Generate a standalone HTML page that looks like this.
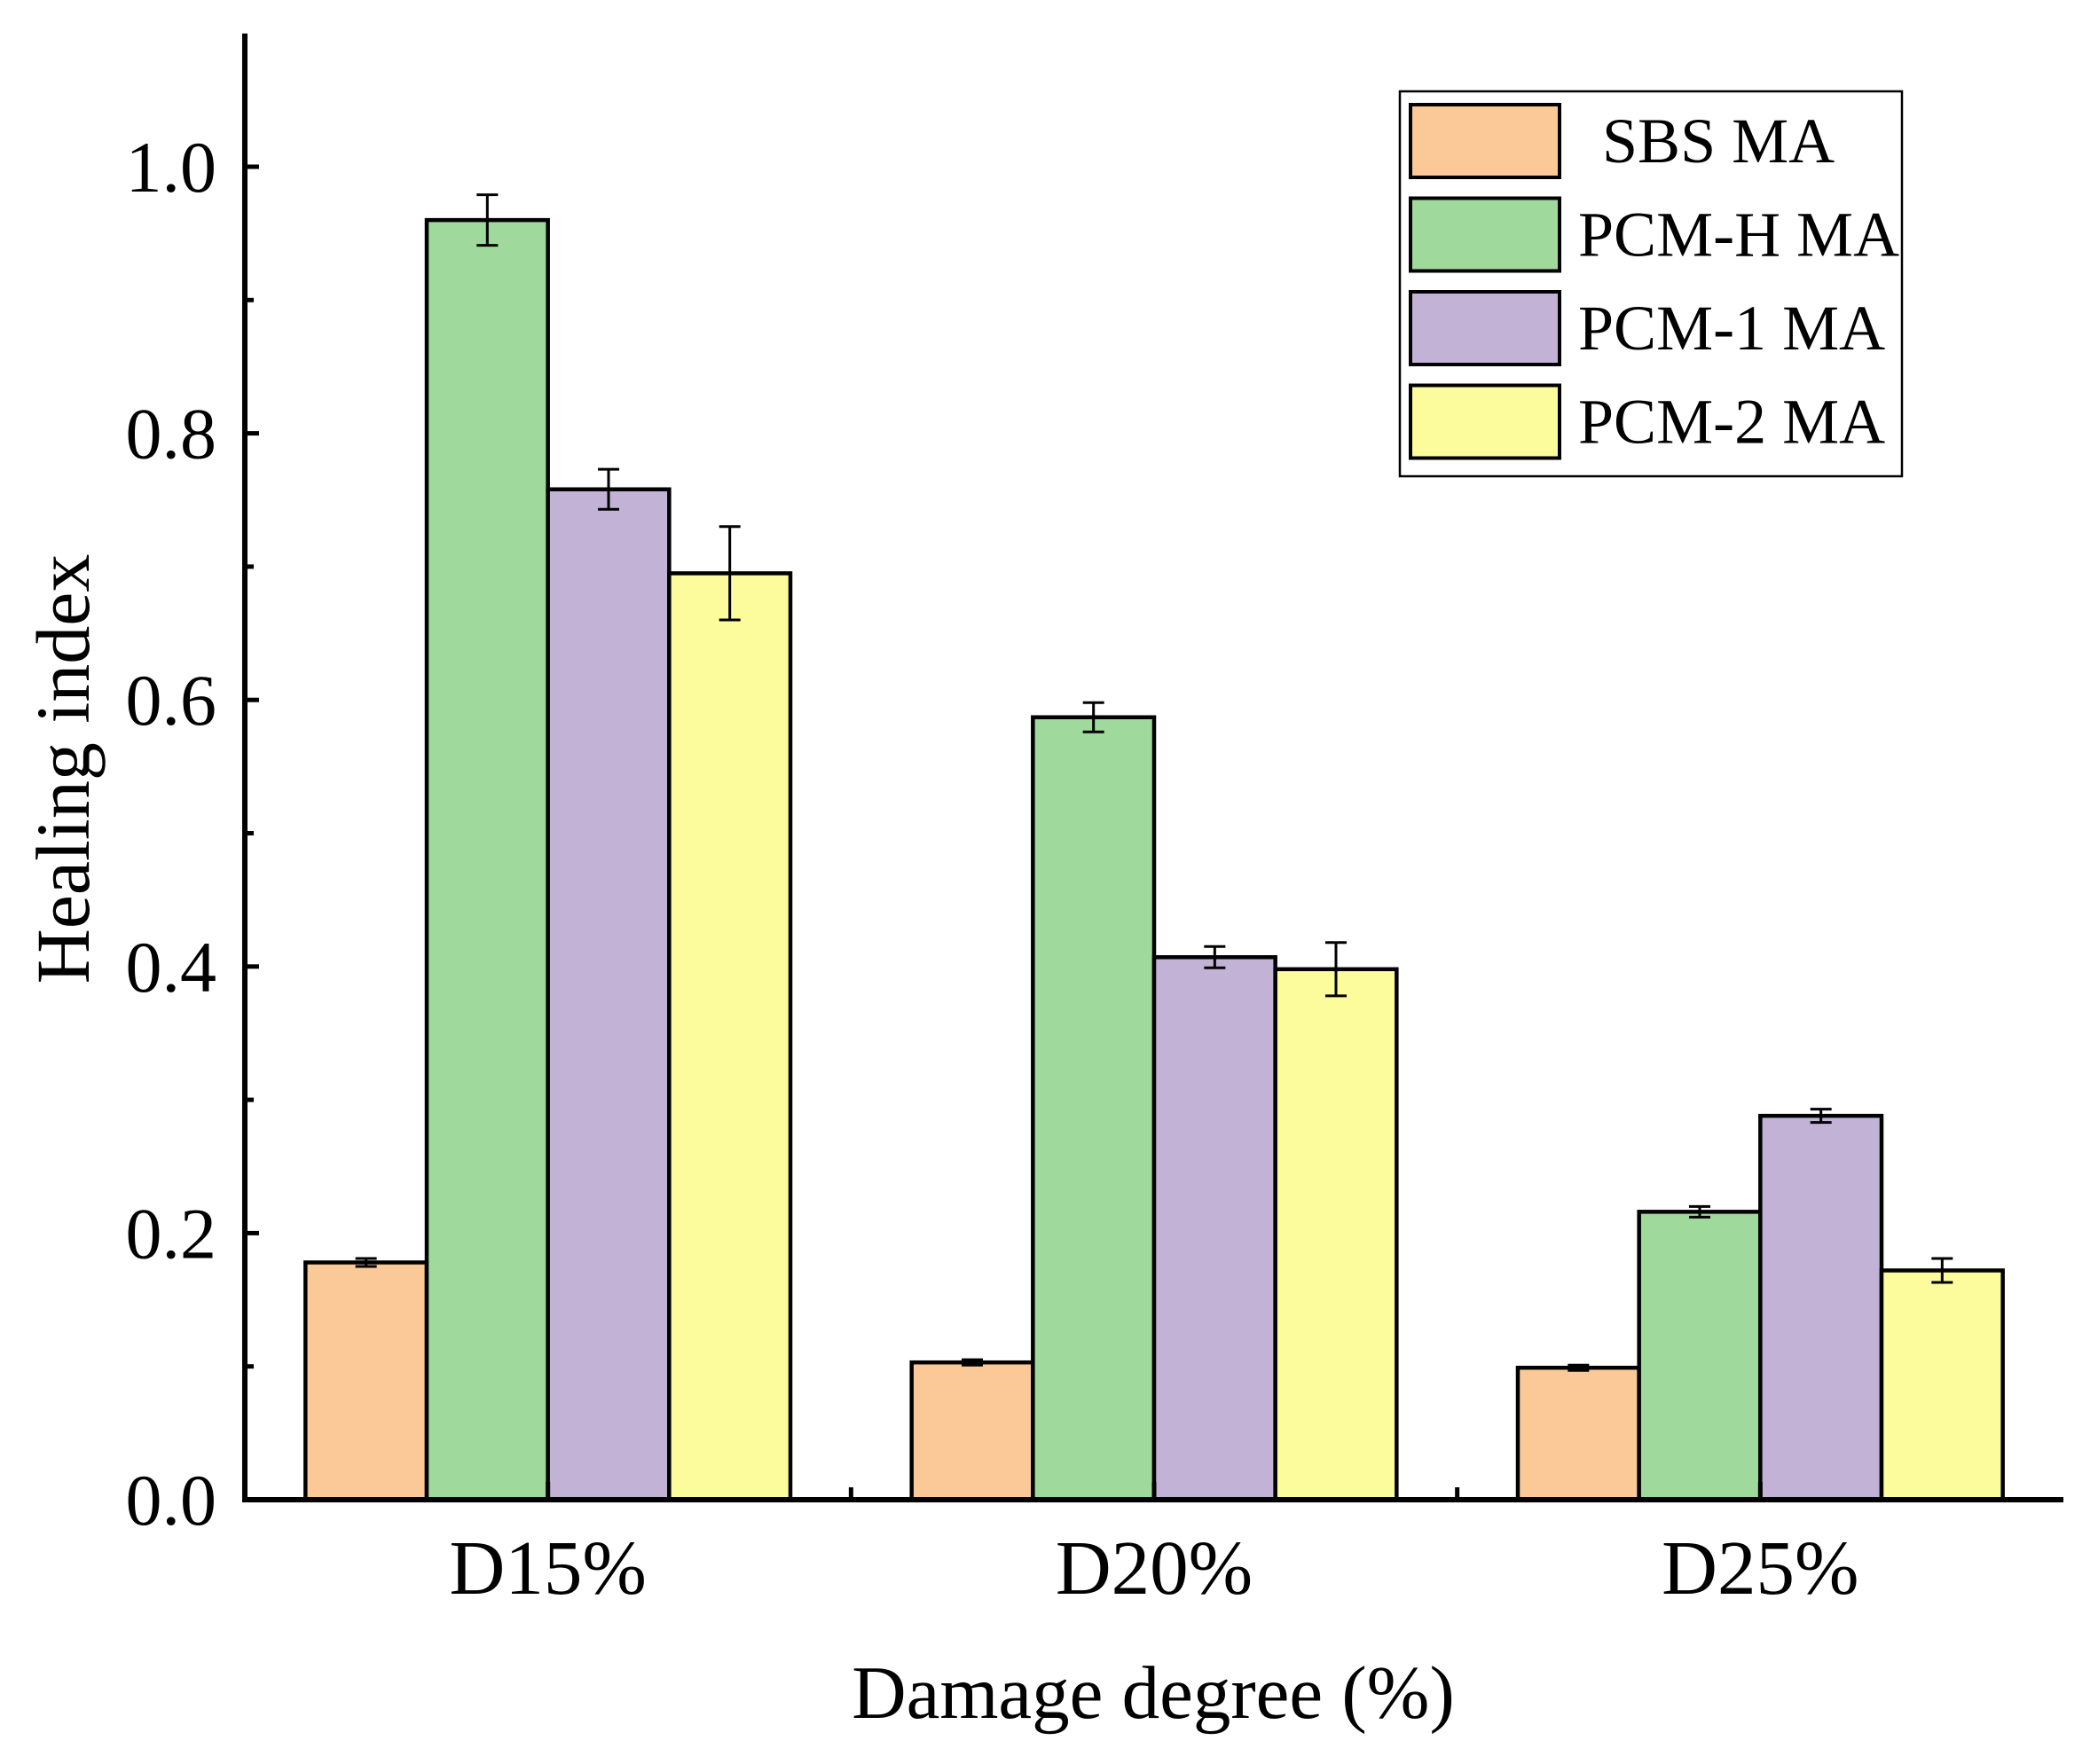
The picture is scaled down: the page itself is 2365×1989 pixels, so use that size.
<!DOCTYPE html>
<html><head><meta charset="utf-8"><style>
html,body{margin:0;padding:0;background:#fff;}
svg{display:block;font-family:"Liberation Serif",serif;}
</style></head><body>
<svg id="chart" width="2365" height="1989" viewBox="0 0 2365 1989" xmlns="http://www.w3.org/2000/svg">
<g id="bars"></g>
<g id="axes"></g>
<text x="1300" y="1937" font-size="85" text-anchor="middle">Damage degree (%)</text>
<text transform="translate(100,867) rotate(-90)" font-size="86" text-anchor="middle">Healing index</text>
<g id="legend"></g>
</svg>
<script>
const categories = ["D15%", "D20%", "D25%"];
const seriesNames = ["SBS MA", "PCM-H MA", "PCM-1 MA", "PCM-2 MA"];
const sbsValues = [0.178, 0.103, 0.099];
const pcmHValues = [0.960, 0.587, 0.216];
const pcm1Values = [0.758, 0.407, 0.288];
const pcm2Values = [0.695, 0.398, 0.172];
const sbsErr = [0.003, 0.002, 0.002];
const pcmHErr = [0.019, 0.011, 0.004];
const pcm1Err = [0.015, 0.008, 0.005];
const pcm2Err = [0.035, 0.020, 0.009];
const yTicks = [0.0, 0.2, 0.4, 0.6, 0.8, 1.0];
const yTickLabels = ["0.0", "0.2", "0.4", "0.6", "0.8", "1.0"];

const NS = "http://www.w3.org/2000/svg";
const colors = ["#fbc997", "#a0d99c", "#c2b2d6", "#fdfc9d"];
const allVals = [sbsValues, pcmHValues, pcm1Values, pcm2Values];
const allErr = [sbsErr, pcmHErr, pcm1Err, pcm2Err];
const X0 = 276, X1 = 2326, Y0 = 1691, YMAX = 1.1, PXU = 1503;
const groupW = (X1 - X0) / categories.length;
const barW = groupW * 0.2;
function yScale(v){ return Y0 - v * PXU; }
function xCenter(i){ return X0 + groupW * (i + 0.5); }
function mk(tag, attrs, parent){ const e = document.createElementNS(NS, tag); for (const k in attrs) e.setAttribute(k, attrs[k]); parent.appendChild(e); return e; }

const barsG = document.getElementById("bars");
allVals.forEach((vals, s) => {
  vals.forEach((v, i) => {
    const x = xCenter(i) - 2 * barW + s * barW;
    const r = mk("rect", {x: x, y: yScale(v), width: barW, height: Y0 - yScale(v), fill: colors[s], stroke: "#000", "stroke-width": 4.5}, barsG);
    
    
    const cx = x + barW / 2, e = allErr[s][i];
    const eb = mk("path", {d: `M${cx - 12} ${yScale(v + e)}H${cx + 12}M${cx} ${yScale(v + e)}V${yScale(v - e)}M${cx - 12} ${yScale(v - e)}H${cx + 12}`, stroke: "#000", "stroke-width": 3, fill: "none"}, barsG);
    
    
  });
});

const ax = document.getElementById("axes");
mk("path", {d: `M${X0} ${yScale(YMAX)}V${Y0}H${X1}`, stroke: "#000", "stroke-width": 6, fill: "none"}, ax);
for (let v = 0; v <= 1.0001; v += 0.1) {
  const major = Math.round(v * 10) % 2 === 0;
  mk("line", {x1: X0, x2: X0 + (major ? 16 : 10), y1: yScale(v), y2: yScale(v), stroke: "#000", "stroke-width": 5}, ax);
}
yTicks.forEach((v, i) => {
  const t = mk("text", {x: 244, y: yScale(v) + 28, "font-size": 82, "text-anchor": "end"}, ax);
  t.textContent = yTickLabels[i];
  
  
});
for (let i = 1; i < categories.length; i++) {
  const x = X0 + groupW * i;
  mk("line", {x1: x, x2: x, y1: Y0, y2: Y0 - 14, stroke: "#000", "stroke-width": 5}, ax);
}
categories.forEach((c, i) => {
  mk("line", {x1: xCenter(i), x2: xCenter(i), y1: Y0, y2: Y0 - 20, stroke: "#000", "stroke-width": 5}, ax);
  const t = mk("text", {x: xCenter(i), y: 1797, "font-size": 87, "text-anchor": "middle"}, ax);
  t.textContent = c;
  
  
});

const lg = document.getElementById("legend");
mk("rect", {x: 1578, y: 103, width: 566, height: 434, fill: "#fff", stroke: "#000", "stroke-width": 2.5}, lg);
seriesNames.forEach((n, s) => {
  const y = 118 + s * 105.5;
  const sw = mk("rect", {x: 1590, y: y, width: 168, height: 82, fill: colors[s], stroke: "#000", "stroke-width": 4}, lg);
  
  
  const t = mk("text", {x: s === 0 ? 1806 : 1779, y: y + 65, "font-size": 72}, lg);
  t.textContent = n;
  
  
});
</script>
</body></html>
